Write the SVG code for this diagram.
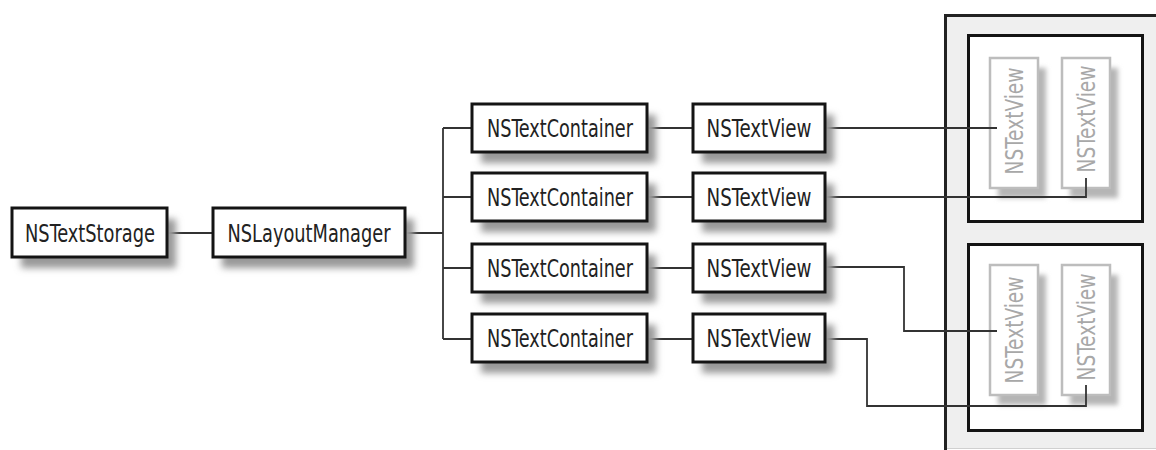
<svg xmlns="http://www.w3.org/2000/svg" width="1156" height="450" viewBox="0 0 1156 450">
<defs>
<filter id="blur" x="-20%" y="-30%" width="140%" height="160%"><feGaussianBlur stdDeviation="3.5"/></filter>
<filter id="blur2" x="-30%" y="-20%" width="160%" height="140%"><feGaussianBlur stdDeviation="2.5"/></filter>
</defs>
<style>
.shadow{fill:#999;filter:url(#blur)}
.box{fill:#fff;stroke:#141414;stroke-width:3}
.lbl{font-family:"DejaVu Sans Condensed","Liberation Sans Narrow","Liberation Sans",sans-serif;font-size:24px;fill:#222;text-anchor:middle}
.lshadow{fill:#b5b5b5;filter:url(#blur2)}
.lbox{fill:#fff;stroke:#bdbdbd;stroke-width:2.5}
.llbl{font-family:"DejaVu Sans Condensed","Liberation Sans Narrow","Liberation Sans",sans-serif;font-size:24px;fill:#a8a8a8;text-anchor:middle}
.conn{fill:none;stroke:#333;stroke-width:1.8}
.frame{fill:#fff;stroke:#141414;stroke-width:3}
</style>
<rect width="1156" height="450" fill="#fff"/>

<g id="panel">
<rect x="945" y="15" width="215" height="433" fill="#efefef"/>
<line x1="945" y1="448.5" x2="1156" y2="448.5" stroke="#d0d0d0" stroke-width="1"/>
<path d="M945.5,450 V15.5 H1160" fill="none" stroke="#222" stroke-width="3"/>
</g>
<g id="window1">
<rect class="frame" x="968.5" y="35.5" width="174" height="186"/>
</g>
<g id="window2">
<rect class="frame" x="968.5" y="244.5" width="174" height="186"/>
</g>

<g id="view-w1a">
<rect class="lshadow" x="998" y="68" width="48" height="130"/>
<rect class="lbox" x="990" y="58" width="48" height="130"/>
<text class="llbl" transform="translate(1023,121) rotate(-90)" textLength="107" lengthAdjust="spacingAndGlyphs">NSTextView</text>
</g>
<g id="view-w1b">
<rect class="lshadow" x="1070" y="68" width="48" height="130"/>
<rect class="lbox" x="1062" y="58" width="48" height="130"/>
<text class="llbl" transform="translate(1095,119) rotate(-90)" textLength="107" lengthAdjust="spacingAndGlyphs">NSTextView</text>
</g>
<g id="view-w2a">
<rect class="lshadow" x="998" y="275" width="48" height="130"/>
<rect class="lbox" x="990" y="265" width="48" height="130"/>
<text class="llbl" transform="translate(1023,330) rotate(-90)" textLength="107" lengthAdjust="spacingAndGlyphs">NSTextView</text>
</g>
<g id="view-w2b">
<rect class="lshadow" x="1070" y="275" width="48" height="130"/>
<rect class="lbox" x="1062" y="265" width="48" height="130"/>
<text class="llbl" transform="translate(1095,327) rotate(-90)" textLength="107" lengthAdjust="spacingAndGlyphs">NSTextView</text>
</g>

<g id="connectors">
<path class="conn" d="M167,233 H213"/>
<path class="conn" d="M405,233 H443"/>
<path class="conn" d="M443,128 V339"/>
<path class="conn" d="M443,128 H472 M443,197 H472 M443,268 H472 M443,339 H472"/>
<path class="conn" d="M647,128 H693 M647,197 H693 M647,268 H693 M647,339 H693"/>
<path class="conn" d="M825,128 H997"/>
<path class="conn" d="M825,197 H1086 V178"/>
<path class="conn" d="M825,267 H904 V331 H997"/>
<path class="conn" d="M825,339 H867 V406 H1086 V385"/>
</g>

<g id="textstorage">
<rect class="shadow" x="21" y="219" width="155" height="49"/>
<rect class="box" x="12" y="208" width="155" height="49"/>
<text class="lbl" x="90" y="242" textLength="130" lengthAdjust="spacingAndGlyphs">NSTextStorage</text>
</g>
<g id="layoutmanager">
<rect class="shadow" x="222" y="219" width="192" height="49"/>
<rect class="box" x="213" y="208" width="192" height="49"/>
<text class="lbl" x="309" y="242" textLength="163" lengthAdjust="spacingAndGlyphs">NSLayoutManager</text>
</g>

<g id="container1">
<rect class="shadow" x="481" y="115" width="175" height="48"/>
<rect class="box" x="472" y="104" width="175" height="48"/>
<text class="lbl" x="560" y="137" textLength="146" lengthAdjust="spacingAndGlyphs">NSTextContainer</text>
</g>
<g id="container2">
<rect class="shadow" x="481" y="184" width="175" height="48"/>
<rect class="box" x="472" y="173" width="175" height="48"/>
<text class="lbl" x="560" y="206" textLength="146" lengthAdjust="spacingAndGlyphs">NSTextContainer</text>
</g>
<g id="container3">
<rect class="shadow" x="481" y="255" width="175" height="48"/>
<rect class="box" x="472" y="244" width="175" height="48"/>
<text class="lbl" x="560" y="277" textLength="146" lengthAdjust="spacingAndGlyphs">NSTextContainer</text>
</g>
<g id="container4">
<rect class="shadow" x="481" y="325" width="175" height="48"/>
<rect class="box" x="472" y="314" width="175" height="48"/>
<text class="lbl" x="560" y="347" textLength="146" lengthAdjust="spacingAndGlyphs">NSTextContainer</text>
</g>

<g id="textview1">
<rect class="shadow" x="702" y="115" width="132" height="48"/>
<rect class="box" x="693" y="104" width="132" height="48"/>
<text class="lbl" x="759" y="137" textLength="105" lengthAdjust="spacingAndGlyphs">NSTextView</text>
</g>
<g id="textview2">
<rect class="shadow" x="702" y="184" width="132" height="48"/>
<rect class="box" x="693" y="173" width="132" height="48"/>
<text class="lbl" x="759" y="206" textLength="105" lengthAdjust="spacingAndGlyphs">NSTextView</text>
</g>
<g id="textview3">
<rect class="shadow" x="702" y="255" width="132" height="48"/>
<rect class="box" x="693" y="244" width="132" height="48"/>
<text class="lbl" x="759" y="277" textLength="105" lengthAdjust="spacingAndGlyphs">NSTextView</text>
</g>
<g id="textview4">
<rect class="shadow" x="702" y="325" width="132" height="48"/>
<rect class="box" x="693" y="314" width="132" height="48"/>
<text class="lbl" x="759" y="347" textLength="105" lengthAdjust="spacingAndGlyphs">NSTextView</text>
</g>
</svg>
